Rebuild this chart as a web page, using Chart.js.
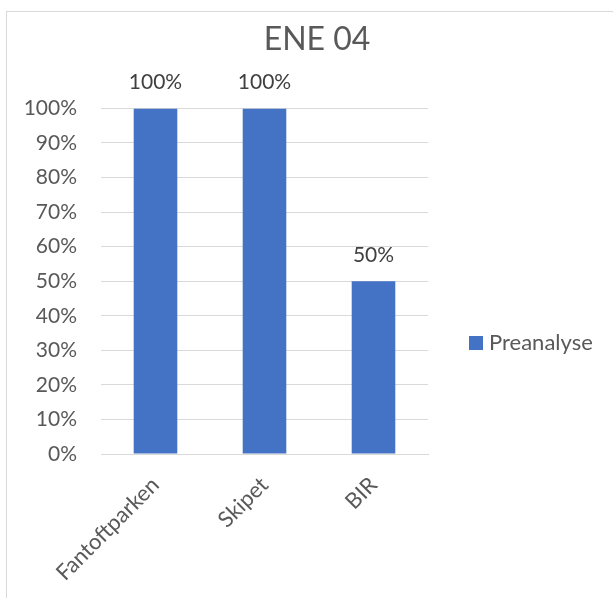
<!DOCTYPE html>
<html>
<head>
<meta charset="utf-8">
<script src="https://cdn.jsdelivr.net/npm/chart.js@4.4.1/dist/chart.umd.min.js"></script>
<style>
  html, body { margin: 0; padding: 0; background: #fff; }
  #wrap { position: relative; width: 613px; height: 598px; overflow: hidden; }
  #frame { position: absolute; left: 6px; top: 11px; width: 700px; height: 700px; border-left: 1px solid #d9d9d9; border-top: 1px solid #d9d9d9; }
  canvas { position: absolute; left: 0; top: 0; }
</style>
</head>
<body>
<div id="wrap">
  <div id="frame"></div>
  <canvas id="eneChart" width="613" height="598"></canvas>
</div>
<script>
const categories = ["Fantoftparken", "Skipet", "BIR"];
const preanalyse = [100, 100, 50];
const seriesName = "Preanalyse";
const chartTitle = "ENE 04";

const textGrey = "#595959";
const gridGrey = "#d9d9d9";
const barBlue = "#4472C4";

Chart.defaults.font.family = "Lato";
Chart.defaults.color = textGrey;

// value labels above each bar, placed from the bar elements
const valueLabels = {
  id: "valueLabels",
  afterDatasetsDraw(chart) {
    const ctx = chart.ctx;
    const ds = chart.data.datasets[0];
    ctx.save();
    ctx.font = "21px Lato";
    ctx.fillStyle = "#404040";
    ctx.textAlign = "center";
    ctx.textBaseline = "middle";
    chart.getDatasetMeta(0).data.forEach((bar, i) => {
      ctx.fillText(ds.data[i] + "%", bar.x, bar.y - 26);
    });
    ctx.restore();
  },
};

// single-item legend to the right of the plot
const sideLegend = {
  id: "sideLegend",
  afterDraw(chart) {
    const ctx = chart.ctx;
    const ds = chart.data.datasets[0];
    const x = chart.chartArea.right + 41;
    const y = 343;
    ctx.save();
    ctx.fillStyle = ds.backgroundColor;
    ctx.fillRect(x, y - 7, 14, 14);
    ctx.font = "22px Lato";
    ctx.fillStyle = textGrey;
    ctx.textBaseline = "middle";
    ctx.fillText(ds.label, x + 20, y);
    ctx.restore();
  },
};

const ctx = document.getElementById("eneChart").getContext("2d");
const eneChart = new Chart(ctx, {
  type: "bar",
  data: {
    labels: categories,
    datasets: [
      {
        label: seriesName,
        data: preanalyse,
        backgroundColor: barBlue,
        barPercentage: 0.4,
        categoryPercentage: 1,
      },
    ],
  },
  plugins: [valueLabels, sideLegend],
  options: {
    responsive: false,
    animation: false,
    layout: {
      padding: { left: 21, right: 0, top: 20, bottom: 0 },
    },
    scales: {
      x: {
        grid: { display: false, drawTicks: false },
        border: { color: gridGrey },
        ticks: {
          font: { size: 22 },
          maxRotation: 45,
          minRotation: 45,
          padding: 18,
        },
        afterFit: function (scale) {
          scale.height = 144;
        },
      },
      y: {
        min: 0,
        max: 100,
        grid: { color: gridGrey, drawTicks: false },
        border: { display: false },
        ticks: {
          stepSize: 10,
          padding: 24,
          font: { size: 21 },
          callback: function (value) {
            return value + "%";
          },
        },
        afterFit: function (scale) {
          scale.width = 80;
        },
      },
      spacer: {
        position: "right",
        grid: { display: false },
        border: { display: false },
        ticks: { display: false },
        afterFit: function (scale) {
          scale.width = 185;
        },
      },
    },
    plugins: {
      legend: { display: false },
      tooltip: { enabled: false },
      title: {
        display: true,
        text: chartTitle,
        color: textGrey,
        font: { size: 32, weight: "normal" },
        padding: { top: 0, bottom: 50 },
      },
    },
  },
});
</script>
</body>
</html>
